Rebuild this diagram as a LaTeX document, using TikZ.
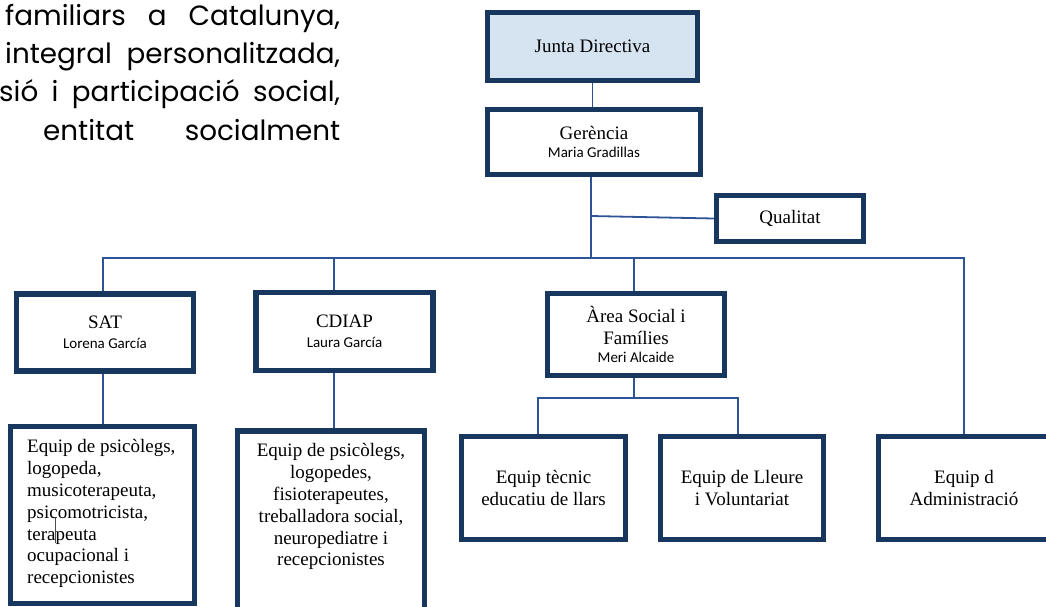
\documentclass[tikz,border=0pt]{standalone}
\usepackage{fontspec}
\setmainfont{Liberation Serif}
\newfontfamily\namefont{Carlito}
\newfontfamily\parfont{Poppins}
\usetikzlibrary{backgrounds}
\definecolor{navy}{RGB}{23,55,94}
\definecolor{linkc}{RGB}{46,84,150}
\definecolor{jfill}{RGB}{214,227,240}
\newcommand\nm[1]{{\namefont\fontsize{15}{18}\selectfont #1}}
\begin{document}
\begin{tikzpicture}[x=1pt,y=-1pt,
  box/.style={draw=navy, line width=5.5pt, fill=white, align=center, inner sep=0pt,
    font=\fontsize{19}{21.8}\selectfont},
  conn/.style={draw=linkc, line width=1.8pt},
  ptext/.style={anchor=base west, inner sep=0pt, font=\parfont\fontsize{27.8}{38}\selectfont},
  txt/.style={inner sep=0pt, font=\fontsize{19}{21.8}\selectfont},
  cursorline/.style={draw=black!70, line width=0.9pt}]
\useasboundingbox (0,0) rectangle (1046,606);
\clip (0,0) rectangle (1046,606);

% paragraph fragment
\node[ptext] (p1) at (5,25) {\makebox[335pt][s]{familiars a Catalunya,}};
\node[ptext] (p2) at (5,63) {\makebox[335pt][s]{integral personalitzada,}};
\node[ptext] (p3) at (-1,101.5) {\makebox[341pt][s]{sió i participació social,}};
\node[ptext] (p4) at (43,140) {\makebox[297pt][s]{entitat socialment}};

% boxes
\node[box, fill=jfill, minimum width=210, minimum height=68] (jd) at (592.5,46.5) {Junta Directiva};
\node[box, minimum width=213, minimum height=65] (ger) at (594,142) {Gerència\\[-3pt]\nm{Maria Gradillas}};
\node[box, minimum width=147, minimum height=46] (qual) at (790,218.5) {Qualitat};
\node[box, minimum width=177, minimum height=77] (sat) at (105,332.5) {SAT\\[-2pt]\nm{Lorena García}};
\node[box, minimum width=177, minimum height=78] (cdiap) at (344.5,331.5) {CDIAP\\[-2pt]\nm{Laura García}};
\node[box, minimum width=177, minimum height=82] (area) at (636,334.5) {Àrea Social i\\Famílies\\[-3pt]\nm{Meri Alcaide}};
\node[box, minimum width=184, minimum height=177] (steam) at (102.5,515) {};
\node[txt, anchor=north west, align=left] (steamtxt) at (27,439.5) {Equip de psicòlegs,\\logopeda,\\musicoterapeuta,\\psicomotricista,\\terapeuta\\ocupacional i\\recepcionistes};
\node[box, minimum width=187, minimum height=200] (cteam) at (331,531) {};
\node[txt, anchor=north, align=center] (cteamtxt) at (331,443.5) {Equip de psicòlegs,\\logopedes,\\fisioterapeutes,\\treballadora social,\\neuropediatre i\\recepcionistes};
\node[box, minimum width=164, minimum height=103] (tecnic) at (543.5,488) {Equip tècnic\\educatiu de llars};
\node[box, minimum width=163, minimum height=103] (lleure) at (742,488) {Equip de Lleure\\i Voluntariat};
\node[box, minimum width=171, minimum height=103] (admin) at (964,488) {Equip d\\Administració};

% text cursor artefact
\draw[cursorline] (55,518) -- (55,543);

% connectors
\coordinate (gj) at (591,258);
\coordinate (qj) at (591,216);
\coordinate (busL) at (103,258);
\coordinate (busR) at (964,258);
\coordinate (cdx) at (334,258);
\coordinate (arx) at (634,258);
\coordinate (sb) at (634,398);
\coordinate (sbL) at (538,398);
\coordinate (sbR) at (738,398);
\begin{pgfonlayer}{background}
\draw[conn] (jd.south) -- (jd.south |- ger.north);
\draw[conn] (ger.south -| gj) -- (gj);
\draw[conn] (qj) -- (qual.west);
\draw[conn] (busL |- sat.north) -- (busL) -- (busR) -- (busR |- admin.north);
\draw[conn] (cdx) -- (cdx |- cdiap.north);
\draw[conn] (arx) -- (arx |- area.north);
\draw[conn] (sat.south -| busL) -- (busL |- steam.north);
\draw[conn] (cdiap.south -| cdx) -- (cdx |- cteam.north);
\draw[conn] (area.south -| sb) -- (sb);
\draw[conn] (sbL |- tecnic.north) -- (sbL) -- (sbR) -- (sbR |- lleure.north);
\end{pgfonlayer}
\end{tikzpicture}
\end{document}
